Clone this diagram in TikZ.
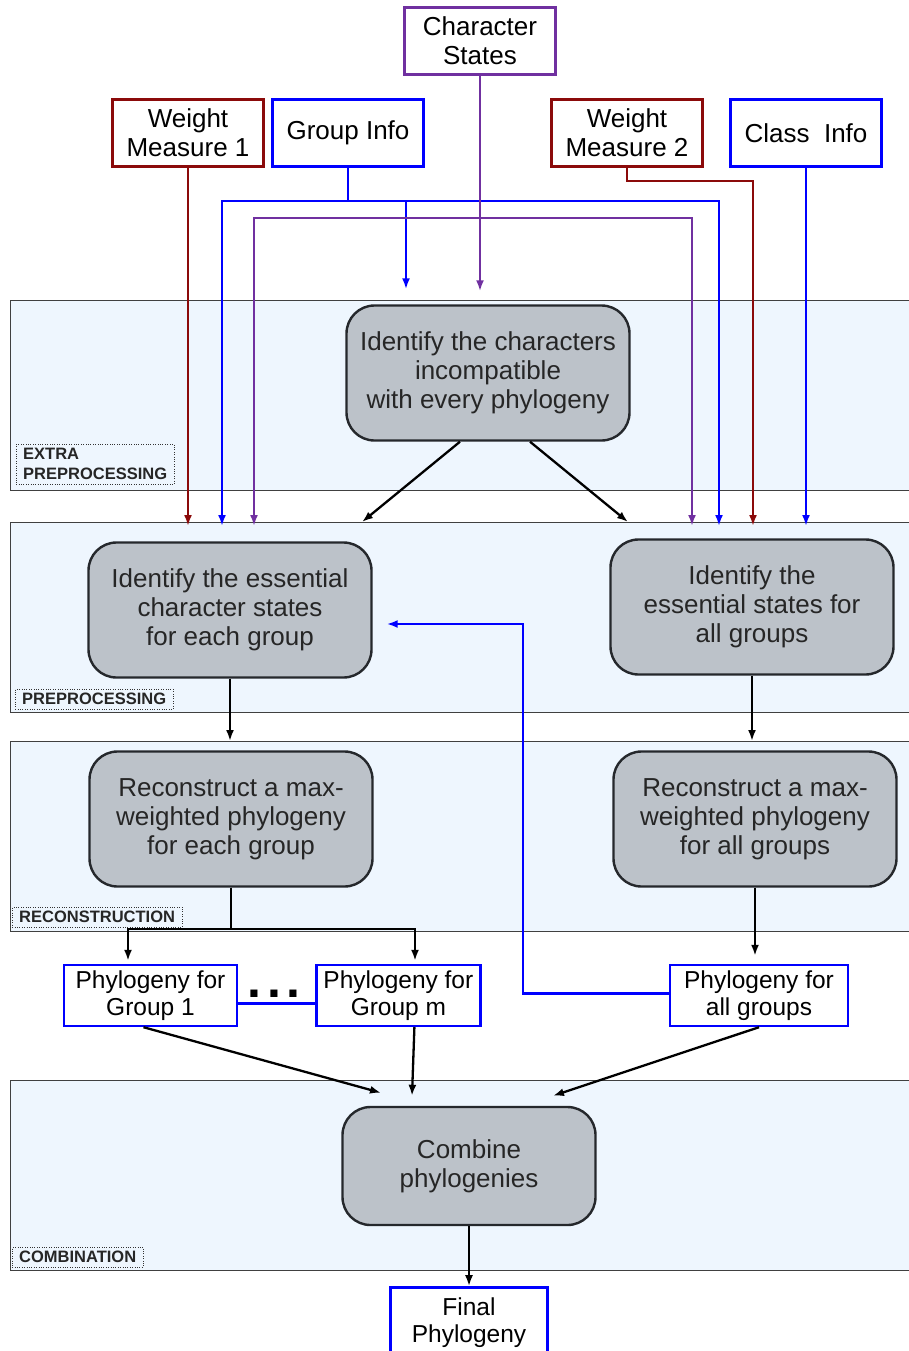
\documentclass[tikz,border=0pt]{standalone}
\usepackage{fontspec}
\setmainfont{Liberation Sans}
\usepackage{xcolor}
\usepackage{tikz}
\usetikzlibrary{arrows.meta, positioning, calc}
\definecolor{bandfill}{HTML}{EEF6FE}
\definecolor{boxgray}{HTML}{BCC2C9}
\definecolor{boxline}{HTML}{25282C}
\definecolor{wred}{HTML}{8B0A0A}
\definecolor{cpurple}{HTML}{7030A0}
\definecolor{iblue}{HTML}{0000FF}

\begin{document}
\begin{tikzpicture}[x=1pt,y=-1pt,
 every node/.style={font=\fontsize{26}{29}\selectfont,align=center},
 band/.style={rectangle,draw=black!75,fill=bandfill,line width=1pt,minimum width=905pt,minimum height=190pt,anchor=north west,inner sep=0pt},
 stage/.style={rectangle,draw=black!80,dotted,fill=bandfill,text=black!85,font=\fontsize{16.5}{20}\selectfont\bfseries,align=left,inner xsep=7pt,inner ysep=4pt,anchor=south west},
 proc/.style={rectangle,rounded corners=28pt,draw=boxline,line width=2.4pt,fill=boxgray,text=black!85,minimum width=283pt,minimum height=135pt,inner sep=2pt},
 inbox/.style={rectangle,draw,line width=2.4pt,fill=white,minimum width=151pt,minimum height=67pt,inner sep=2pt},
 outbox/.style={rectangle,draw=iblue,line width=2.4pt,fill=white,font=\fontsize{24.5}{27}\selectfont,minimum height=61pt,inner sep=2pt},
 arr/.style={-{Latex[length=11pt,width=8pt]},line width=2.3pt}]
\useasboundingbox (0,0) rectangle (909,1351);
% stages
\node[band] (bextra) at (10,300) {};
\node[band] (bpre) at (10,522) {};
\node[band] (brec) at (10,741) {};
\node[band] (bcomb) at (10,1080) {};
\node[stage] (lextra) at (16,484) {EXTRA\\PREPROCESSING};
\node[stage] (lpre) at (15,709) {PREPROCESSING};
\node[stage] (lrec) at (12,927) {RECONSTRUCTION};
\node[stage] (lcomb) at (12,1267) {COMBINATION};
% inputs
\node[inbox,draw=cpurple] (chs) at (480,41) {Character\\States};
\node[inbox,draw=wred] (wm1) at (188,133) {Weight\\Measure 1};
\node[inbox,draw=iblue] (gi) at (348,133) {Group Info};
\node[inbox,draw=wred] (wm2) at (627,133) {Weight\\Measure 2};
\node[inbox,draw=iblue] (ci) at (806,133) {Class~~Info};
% steps
\node[proc] (incomp) at (488,373) {Identify the characters\\incompatible\\with every phylogeny};
\node[proc] (esseach) at (230,610) {Identify the essential\\character states\\for each group};
\node[proc] (essall) at (752,607) {Identify the\\essential states for\\all groups};
\node[proc] (receach) at (231,819) {Reconstruct a max-\\weighted phylogeny\\for each group};
\node[proc] (recall) at (755,819) {Reconstruct a max-\\weighted phylogeny\\for all groups};
\node[proc,minimum width=253pt,minimum height=118pt] (comb) at (469,1166) {Combine\\phylogenies};
% outputs
\node[outbox,minimum width=173pt] (ph1) at (150.5,995.5) {Phylogeny for\\Group 1};
\node[outbox,minimum width=164pt,right=77pt of ph1] (phm) {Phylogeny for\\Group m};
\node[outbox,minimum width=178pt] (phall) at (759,995.5) {Phylogeny for\\all groups};
\node[outbox,minimum width=157pt,minimum height=70pt,below=60pt of comb] (final) {Final\\Phylogeny};
\node[font=\fontsize{50}{50}\selectfont\bfseries] (dots) at (274,994) {.\hspace{6pt}.\hspace{6pt}.};
% bends
\coordinate (gl) at (222,201);
\coordinate (gr) at (719,201);
\coordinate (gm) at (406,201);
\coordinate (pl) at (254,218);
\coordinate (pr) at (692,218);
\coordinate (w2c) at (753,181);
\coordinate (f1) at (128,929);
\coordinate (fm) at (415,929);
\coordinate (fb) at (523,624);
% input connectors
\draw[arr,wred] (wm1.south) -- ([yshift=-4pt]wm1.south |- bpre.north);
\draw[arr,iblue] (gi.south) |- (gl) -- ([yshift=-4pt]gl |- bpre.north);
\draw[arr,iblue] (gi.south) |- (gr) -- ([yshift=-4pt]gr |- bpre.north);
\draw[arr,iblue,shorten >=15pt] (gm) -- (gm |- incomp.north);
\draw[arr,cpurple,shorten >=13pt] (chs.south) -- (chs.south |- incomp.north);
\draw[arr,cpurple] (pl -| chs.south) -- (pl) -- ([yshift=-4pt]pl |- bpre.north);
\draw[arr,cpurple] (pr -| chs.south) -- (pr) -- ([yshift=-4pt]pr |- bpre.north);
\draw[arr,wred] (wm2.south) |- (w2c) -- ([yshift=-4pt]w2c |- bpre.north);
\draw[arr,iblue] (ci.south) -- ([yshift=-4pt]ci.south |- bpre.north);
% flow
\draw[arr] ($(incomp.south)+(-28,0)$) -- (362,522 |- bpre.north);
\draw[arr] ($(incomp.south)+(42,0)$) -- (628,522 |- bpre.north);
\draw[arr] (esseach.south) -- (esseach.south |- brec.north);
\draw[arr] (essall.south) -- (essall.south |- brec.north);
\draw[arr] (receach.south) |- (f1) -- ([yshift=3pt]f1 |- ph1.north);
\draw[arr] (receach.south) |- (fm) -- ([yshift=3pt]fm |- phm.north);
\draw[arr,shorten >=8pt] (recall.south) -- (recall.south |- phall.north);
\draw[arr,iblue,shorten >=14pt] ([yshift=2pt]phall.west) -| (fb) -- (esseach.east |- fb);
\draw[iblue,line width=2.4pt] ([yshift=-8pt]ph1.east) -- ([yshift=-8pt]phm.west);
\draw[arr] ($(ph1.south)+(-7,0)$) -- ($(comb.north)+(-88,-13)$);
\draw[arr] ($(phm.south)+(16,0)$) -- ($(comb.north)+(-57,-10)$);
\draw[arr] (phall.south) -- ($(comb.north)+(84,-10)$);
\draw[arr] (comb.south) -- (final.north);
\end{tikzpicture}
\end{document}
